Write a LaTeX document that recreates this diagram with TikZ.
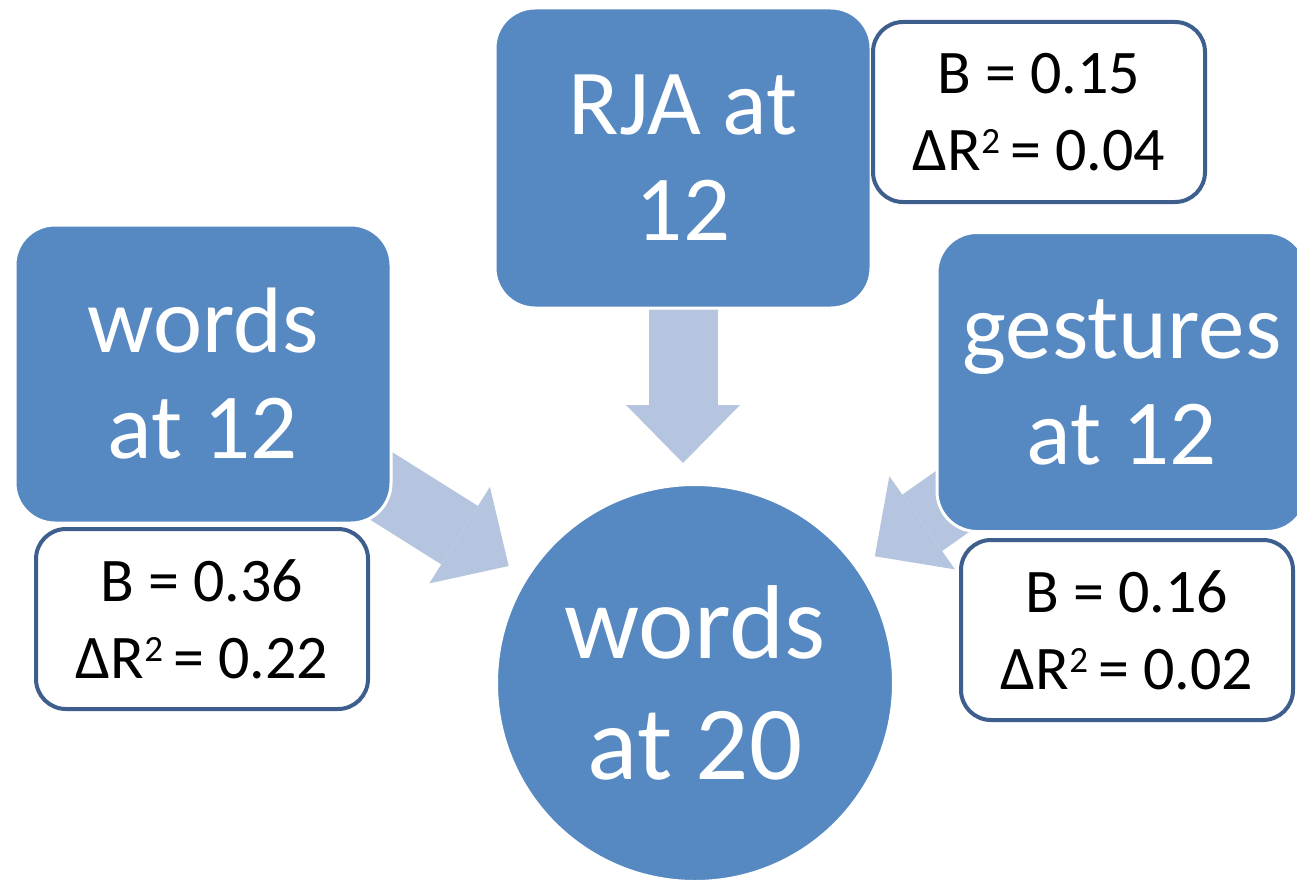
\documentclass[tikz,border=0pt]{standalone}
\usepackage{fontspec}
\setmainfont{Carlito}
\usepackage{tikz}
\usetikzlibrary{arrows.meta, backgrounds}
\definecolor{boxblue}{HTML}{5689C1}
\definecolor{arrowblue}{HTML}{B6C5DF}
\definecolor{labelline}{HTML}{3E5F8E}
\newcommand{\rsq}{\raisebox{17pt}{\fontsize{37}{37}\selectfont 2}}

\begin{document}
\begin{tikzpicture}[x=1pt, y=-1pt,
bluebox/.style={draw=white, line width=3pt, fill=boxblue, rounded corners=40pt, minimum width=376pt, minimum height=300pt, inner sep=0pt, align=center, text=white, font=\fontsize{93}{106}\selectfont},
bluecircle/.style={draw=white, line width=3pt, fill=boxblue, circle, minimum size=397pt, inner sep=0pt, align=center, text=white, font=\fontsize{105}{121}\selectfont},
statbox/.style={draw=labelline, line width=4pt, fill=white, rounded corners=30pt, minimum width=332pt, minimum height=180pt, inner sep=0pt, align=center, font=\fontsize{62}{77}\selectfont},
bigarrow/.style={line width=69pt, color=arrowblue, shorten >=20pt, -{Triangle[width=114pt, length=58pt, line width=0pt]}}
]
    \begin{scope}[on background layer]
        \fill[white] (0, 0) rectangle (1297, 883);
    \end{scope}
    \useasboundingbox (0, 0) rectangle (1297, 883);

    % Predictors and outcome
    \node (rja) at (683, 158) [bluebox] {RJA at\\12};
    \node (words12) at (203, 374) [bluebox, minimum height=298pt] {words\\at 12};
    \node (gest12) at (1122, 382) [bluebox, minimum width=370pt, minimum height=299pt] {gestures\\at 12};
    \node (w20) at (695, 683) [bluecircle] {words\\at 20};

    % Coefficients
    \node (rja_stat) at (1039, 112) [statbox] {B = 0.15\\ΔR\rsq\,= 0.04};
    \node (words_stat) at (202, 619) [statbox] {B = 0.36\\ΔR\rsq\,= 0.22};
    \node (gest_stat) at (1127, 630) [statbox] {B = 0.16\\ΔR\rsq\,= 0.02};

    % Arrows
    \begin{scope}[on background layer]
        \draw [bigarrow] (rja.center) -- (rja.center |- w20.north);
        \draw [bigarrow] (words12.center) -- (w20);
        \draw [bigarrow] (gest12.center) -- (w20);
    \end{scope}
\end{tikzpicture}
\end{document}
